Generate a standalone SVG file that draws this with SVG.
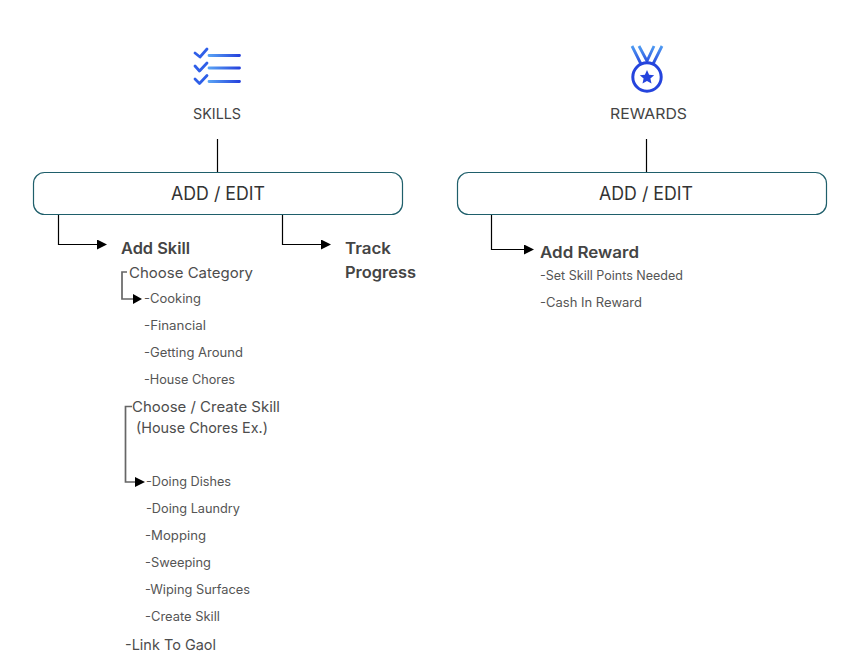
<svg xmlns="http://www.w3.org/2000/svg" width="868" height="668" viewBox="0 0 868 668">
<style>
text{font-family:"Inter","Open Sans","Liberation Sans",sans-serif;fill:#4a4a4a}
.h{font-size:15px;fill:#444}
.box{font-size:18px;fill:#333}
.b{font-size:15.5px;font-weight:600;fill:#444}
.m{font-size:14.5px;fill:#4d4d4d}
.s{font-size:12.5px;fill:#555}
.c{fill:none;stroke:#000;stroke-width:1.2}
.g{fill:none;stroke:#666;stroke-width:1.7}
.node{fill:#fff;stroke:#1f5f6b;stroke-width:1.2}
</style>
<defs>
<linearGradient id="gr" gradientUnits="userSpaceOnUse" x1="208" y1="0" x2="240" y2="0"><stop offset="0" stop-color="#5aa5f5"/><stop offset="1" stop-color="#2541dc"/></linearGradient>
<linearGradient id="gv" gradientUnits="userSpaceOnUse" x1="0" y1="46" x2="0" y2="66"><stop offset="0" stop-color="#4f9cf2"/><stop offset="1" stop-color="#2440dc"/></linearGradient>
<marker id="a" markerWidth="12" markerHeight="10" refX="0" refY="5" orient="auto" markerUnits="userSpaceOnUse"><path d="M0 0L10 5L0 10Z" fill="#000"/></marker>
</defs>
<g id="connectors">
<path class="c" d="M217.500 139V172"/>
<path class="c" d="M646.500 139V172"/>
<path class="c" d="M58.500 214V244.500H97" marker-end="url(#a)"/>
<path class="c" d="M282.500 214V244.500H321" marker-end="url(#a)"/>
<path class="c" d="M491.500 214V249.500H524" marker-end="url(#a)"/>
<path class="g" d="M127 272H122V299H133"/>
<path d="M133 294L142 299L133 304Z" fill="#000"/>
<path class="g" d="M132 406.500H125.500V482H135"/>
<path d="M135 477L145 482L135 487Z" fill="#000"/>
</g>
<g id="skills-icon">
<path d="M195 53l5 4 7-8M195 66l4.500 5 7.500-8M195 79l4.500 4.500 7.500-8" fill="none" stroke="#2f5fe8" stroke-width="2.800" stroke-linecap="round" stroke-linejoin="round"/>
<path d="M209 55.500H239.500M209 68H239.500M209 81.500H239.500" fill="none" stroke="url(#gr)" stroke-width="2.800" stroke-linecap="round"/>
</g>
<g id="skills"><text class="h" x="217" y="119" text-anchor="middle" textLength="48" lengthAdjust="spacingAndGlyphs">SKILLS</text></g>
<g id="rewards-icon">
<path d="M632 46L641 64M639 46L647 61L654 46M662 46L653 64" fill="none" stroke="url(#gv)" stroke-width="2.800"/>
<circle cx="647" cy="77" r="14.200" fill="none" stroke="#2544dd" stroke-width="3"/>
<path d="M647 70l2.100 4.700 5.100.5-3.800 3.400 1.100 5-4.500-2.600-4.500 2.600 1.100-5-3.800-3.400 5.100-.5z" fill="#2544dd"/>
</g>
<g id="rewards"><text class="h" x="648.500" y="119" text-anchor="middle" textLength="77" lengthAdjust="spacingAndGlyphs">REWARDS</text></g>
<g id="add-edit-1"><rect class="node" x="33.500" y="172.500" width="369" height="42" rx="11"/><text class="box" x="218" y="200" text-anchor="middle" textLength="94" lengthAdjust="spacingAndGlyphs">ADD / EDIT</text></g>
<g id="add-edit-2"><rect class="node" x="457.500" y="172.500" width="369" height="42" rx="11"/><text class="box" x="646" y="200" text-anchor="middle" textLength="94" lengthAdjust="spacingAndGlyphs">ADD / EDIT</text></g>
<g id="add-skill"><text class="b" x="121" y="254" textLength="69" lengthAdjust="spacingAndGlyphs">Add Skill</text></g>
<g id="track-progress"><text class="b" x="345" y="254" textLength="46" lengthAdjust="spacingAndGlyphs">Track</text><text class="b" x="345" y="278" textLength="71" lengthAdjust="spacingAndGlyphs">Progress</text></g>
<g id="add-reward"><text class="b" x="540" y="258" textLength="99" lengthAdjust="spacingAndGlyphs">Add Reward</text></g>
<g id="reward-items">
<text class="s" x="540" y="280" textLength="143" lengthAdjust="spacingAndGlyphs">-Set Skill Points Needed</text>
<text class="s" x="540" y="307" textLength="102" lengthAdjust="spacingAndGlyphs">-Cash In Reward</text>
</g>
<g id="choose-category"><text class="m" x="129" y="278" textLength="124" lengthAdjust="spacingAndGlyphs">Choose Category</text></g>
<g id="categories">
<text class="s" x="144" y="303" textLength="57" lengthAdjust="spacingAndGlyphs">-Cooking</text>
<text class="s" x="144" y="330" textLength="62" lengthAdjust="spacingAndGlyphs">-Financial</text>
<text class="s" x="144" y="357" textLength="99" lengthAdjust="spacingAndGlyphs">-Getting Around</text>
<text class="s" x="144" y="384" textLength="91" lengthAdjust="spacingAndGlyphs">-House Chores</text>
</g>
<g id="choose-skill"><text class="m" x="132" y="412" textLength="148" lengthAdjust="spacingAndGlyphs">Choose / Create Skill</text><text class="m" x="136" y="433" textLength="132" lengthAdjust="spacingAndGlyphs">(House Chores Ex.)</text></g>
<g id="skill-items">
<text class="s" x="146" y="486" textLength="85" lengthAdjust="spacingAndGlyphs">-Doing Dishes</text>
<text class="s" x="146" y="513" textLength="94" lengthAdjust="spacingAndGlyphs">-Doing Laundry</text>
<text class="s" x="145" y="540" textLength="61" lengthAdjust="spacingAndGlyphs">-Mopping</text>
<text class="s" x="145" y="567" textLength="66" lengthAdjust="spacingAndGlyphs">-Sweeping</text>
<text class="s" x="145" y="594" textLength="105" lengthAdjust="spacingAndGlyphs">-Wiping Surfaces</text>
<text class="s" x="145" y="621" textLength="75" lengthAdjust="spacingAndGlyphs">-Create Skill</text>
</g>
<g id="link-goal"><text class="m" x="125" y="650" textLength="91" lengthAdjust="spacingAndGlyphs">-Link To Gaol</text></g>
</svg>
